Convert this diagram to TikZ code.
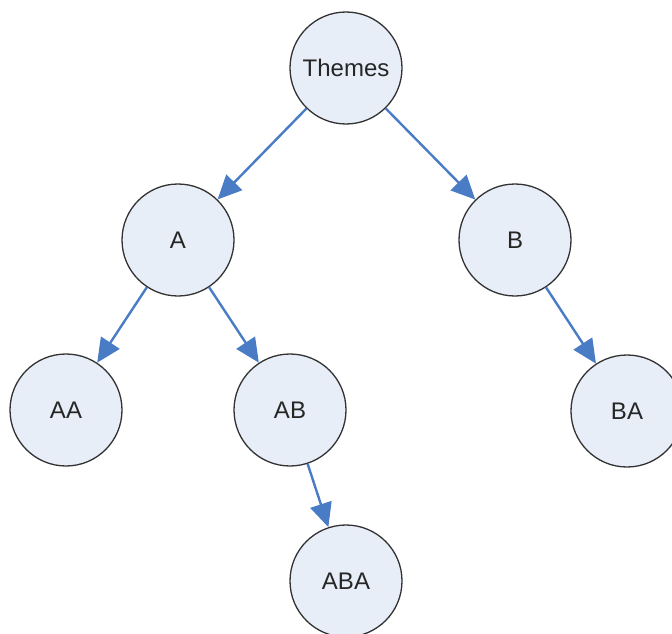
\documentclass[tikz,border=0pt]{standalone}
\usepackage{fontspec}
\setmainfont{Liberation Sans}
\usetikzlibrary{arrows.meta}

\definecolor{themefill}{HTML}{E8EEF8}
\definecolor{arrowblue}{HTML}{4A7CC6}

\begin{document}
\begin{tikzpicture}[x=1pt, y=-1pt,
    theme/.style={circle, draw=black!80, line width=1.3pt, fill=themefill,
        minimum size=112pt, inner sep=0pt, text=black!85, font=\fontsize{24}{26}\selectfont},
    link/.style={draw=arrowblue, line width=2.4pt,
        -{Triangle[length=24pt, width=22pt]}}]
    % Fix the page size
    \useasboundingbox (0, 0) rectangle (672, 634);
    \clip (0, 0) rectangle (672, 634);

    % Draw the circles
    \node[theme] (themes) at (346, 68) {Themes};
    \node[theme] (a) at (178, 240) {A};
    \node[theme] (b) at (515, 240) {B};
    \node[theme] (aa) at (66, 410) {AA};
    \node[theme] (ab) at (290, 410) {AB};
    \node[theme] (ba) at (627, 411) {BA};
    \node[theme] (aba) at (346, 581) {ABA};

    % Draw the arrows
    \draw[link] (themes) -- (a);
    \draw[link] (themes) -- (b);
    \draw[link] (a) -- (aa);
    \draw[link] (a) -- (ab);
    \draw[link] (b) -- (ba);
    \draw[link] (ab) -- (aba);
\end{tikzpicture}
\end{document}
